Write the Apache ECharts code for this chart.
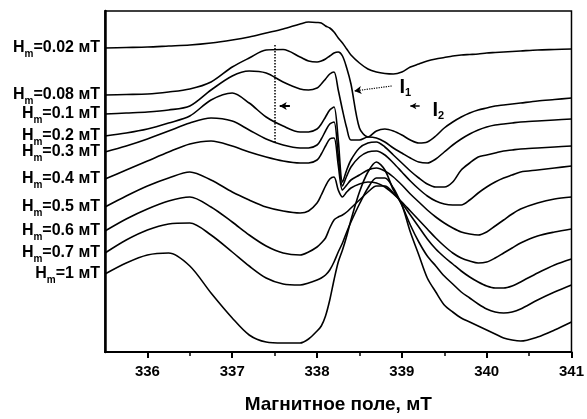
<!DOCTYPE html>
<html><head><meta charset="utf-8">
<script src="https://cdn.jsdelivr.net/npm/echarts@6/dist/echarts.min.js"></script>
<style>html,body{margin:0;padding:0;background:#fff}#c{width:587px;height:419px}</style>
</head><body><div id="c"></div>
<script>
// magnetic field, mT
const field = [335.5,335.75,336,336.25,336.5,336.75,337,337.2,337.4,337.6,337.8,337.9,338,338.05,338.1,338.15,338.2,338.25,338.3,338.35,338.4,338.5,338.6,338.7,338.8,338.9,339,339.1,339.2,339.3,339.4,339.5,339.6,339.7,339.8,339.9,340,340.1,340.2,340.3,340.4,340.6,340.8,341];
// EPR signal (arbitrary units, vertically offset spectra)
const h002 = [304,304.5,305,306,307,309,312,315,319,323,328,330,329.5,329,326,324,320,314,309,303,297,289,283,280,278.5,278,280,285,288,291,293,294.5,296,297,297.5,298,299,299.5,300,300.5,301,302,302.5,303];
const h008 = [257,257.5,258,260,263,270,285,294,302,302.5,295,291,290,291,293,296,299,300,296,284,268,224,215,221,223,221,217,212,209,210,216,224,230,235,239,242,244,246,247,248,249,251,252.5,254];
const h01  = [238,239,240,242,246,262,276,281,279,270,263,262,264,268,273,278,280,262,242,224,212,212,215,214,210,204,199,194,190,189,193,200,207,213,218,222,225,227,228,229,230,231,232,233];
const h02  = [216,219,223,229,236,252,259,249,235,226,220,220,223,228,235,242,245,212,170,182,192,204,209,210,205,197,189,181,174,168,165,165,170,182,189,195,197,199,201,202,203,204,205,206];
const h03  = [200,206,213,221,229,234,231,222,213,207,204,204,207,213,221,228,230,197,166,176,185,195,200,201,197,189,180,171,163,156,151,148,147,147,152,159,165,170,174,177,180,182,184,186];
const h04  = [173,182,191,200,208,211,206,200,195,191,189,189,192,198,206,213,214,187,162,167,172,177,182,184,181,175,167,158,150,142,135,129,124,120,118,117,120,126,132,138,143,149,153,155];
const h05  = [145,156,166,174,180,172,160,152,145,141,139,141,149,157,166,173,175,162,155,160,164,168,170,169,165,158,150,141,132,123,114,106,99,94,91,89,90,94,99,104,109,116,120,123];
const h06  = [121,133,143,151,155,145,130,117,106,99,97,100,105,109,114,124,132,135,137,140,144,152,160,166,166,159,149,137,125,113,103,95,88,81,75,70,66,64,64,66,70,79,87,93];
const h07  = [99,112,122,128,129,117,100,86,74,68,67,69,72,74,77,82,90,100,109,120,130,148,164,174,174,164,147,127,110,96,86,76,68,60,54,48,43,40,39,40,43,52,60,67];
const h1   = [78,89,97,99,86,59,34,17,10,9,9,13,21,26,36,52,72,90,102,116,132,160,180,190,182,162,147,120,97,74,60,47,40,34,30,26,22,18,14,12,11,15,22,30];
const spectra = [h002,h008,h01,h02,h03,h04,h05,h06,h07,h1];
const hmLabels = ['0.02','0.08','0.1','0.2','0.3','0.4','0.5','0.6','0.7','1'];
const majorTicks = [336,337,338,339,340,341];
const minorTicks = [336.5,337.5,338.5,339.5,340.5];

const FONT = 'Liberation Sans, Arial, sans-serif';
const series = spectra.map((vals, k) => {
  const data = field.map((f, i) => [f, vals[i]]);
  data[0] = {
    value: data[0],
    label: {
      show: true, position: 'left', distance: 5,
      formatter: '{h|H}{s|m}{t|=' + hmLabels[k] + ' мТ}',
      rich: {
        h: {fontSize: 16, fontWeight: 'bold', fontFamily: FONT, color: '#000', lineHeight: 18},
        s: {fontSize: 10, fontWeight: 'bold', fontFamily: FONT, color: '#000', padding: [12, 0, 0, 0], lineHeight: 10},
        t: {fontSize: 16, fontWeight: 'bold', fontFamily: FONT, color: '#000', lineHeight: 18}
      }
    }
  };
  const s = {
    type: 'line', data, smooth: 0.3, symbol: 'circle', symbolSize: 0.01, showSymbol: true, showAllSymbol: true,
    itemStyle: {color: 'rgba(0,0,0,0)', borderWidth: 0},
    label: {show: false},
    lineStyle: {color: '#000', width: 1.6}, clip: false, silent: true
  };
  if (k === 0) {
    s.markLine = {
      silent: true, animation: false, label: {show: false},
      data: [
        [{coord: [337.5, 307], symbol: 'none'}, {coord: [337.5, 209], symbol: 'none', lineStyle: {type: 'dotted', width: 1.5, color: '#000'}}],
        [{coord: [337.68, 246], symbol: 'none'}, {coord: [337.56, 246], symbol: 'arrow', symbolSize: [6, 7], lineStyle: {type: 'solid', width: 2, color: '#000'}}],
        [{coord: [338.88, 266], symbol: 'none'}, {coord: [338.44, 261], symbol: 'arrow', symbolSize: [6, 7], lineStyle: {type: 'dotted', width: 1.2, color: '#000'}}],
        [{coord: [339.21, 246], symbol: 'none'}, {coord: [339.1, 246], symbol: 'arrow', symbolSize: [5, 6], lineStyle: {type: 'solid', width: 1.5, color: '#000'}}]
      ]
    };
    s.markPoint = {
      silent: true, animation: false, symbol: 'circle', symbolSize: 0,
      data: [
        {coord: [339.04, 265], label: {show: true, formatter: '{i|I}{n|1}', rich: {
          i: {fontSize: 20, fontWeight: 'bold', fontFamily: FONT, color: '#000'},
          n: {fontSize: 11, fontWeight: 'bold', fontFamily: FONT, color: '#000', padding: [12, 0, 0, 0]}}}},
        {coord: [339.43, 242], label: {show: true, formatter: '{i|I}{n|2}', rich: {
          i: {fontSize: 20, fontWeight: 'bold', fontFamily: FONT, color: '#000'},
          n: {fontSize: 11, fontWeight: 'bold', fontFamily: FONT, color: '#000', padding: [12, 0, 0, 0]}}}}
      ]
    };
  }
  return s;
});

const chart = echarts.init(document.getElementById('c'), null, {renderer: 'canvas'});
chart.setOption({
  animation: false,
  backgroundColor: '#fff',
  grid: {left: 105, right: 15, top: 11, bottom: 67, show: true, borderColor: '#000', borderWidth: 1.5, backgroundColor: 'transparent'},
  xAxis: [{
    type: 'value', min: 335.5, max: 341, position: 'bottom',
    axisLine: {show: true, lineStyle: {color: '#000', width: 2}},
    axisTick: {show: true, customValues: majorTicks, length: 6, lineStyle: {color: '#000', width: 2}},
    axisLabel: {customValues: majorTicks, color: '#000', fontSize: 15, fontWeight: 'bold', fontFamily: FONT, margin: 12},
    splitLine: {show: false},
    name: 'Магнитное поле, мТ', nameLocation: 'middle', nameGap: 43,
    nameTextStyle: {color: '#000', fontSize: 19, fontWeight: 'bold', fontFamily: FONT}
  }, {
    type: 'value', min: 335.5, max: 341, position: 'bottom',
    axisLine: {show: false},
    axisTick: {show: true, customValues: minorTicks, length: 4, lineStyle: {color: '#000', width: 1.5}},
    axisLabel: {show: false}, splitLine: {show: false}
  }],
  yAxis: {
    type: 'value', min: 0, max: 341,
    axisLine: {show: true, lineStyle: {color: '#000', width: 2.5}},
    axisTick: {show: false}, axisLabel: {show: false}, splitLine: {show: false}
  },
  series
});
</script></body></html>
